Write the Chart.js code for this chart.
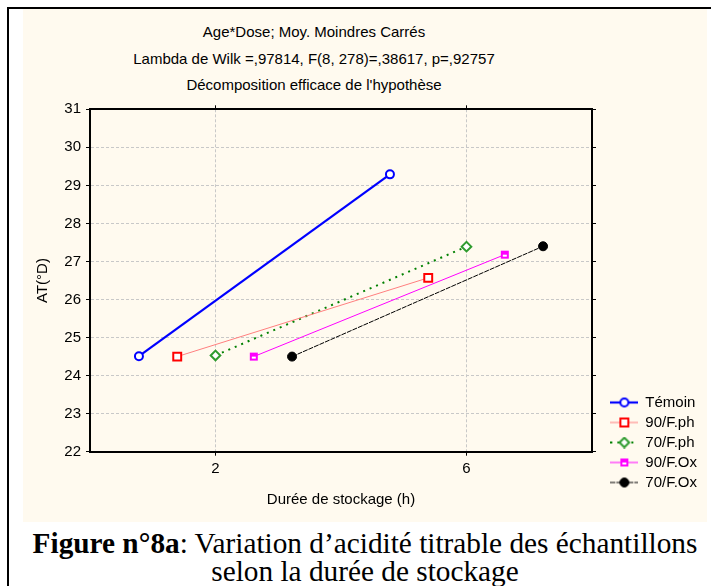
<!DOCTYPE html>
<html lang="fr">
<head>
<meta charset="UTF-8">
<title>Acidité titrable</title>
<script src="https://cdn.jsdelivr.net/npm/chart.js@4.4.1/dist/chart.umd.min.js"></script>
<style>
  html, body { margin: 0; padding: 0; background: #fff; width: 711px; height: 586px; overflow: hidden; }
  #frame { position: absolute; left: 7px; top: 7px; width: 720px; height: 600px; border-left: 2px solid #000; border-top: 2px solid #000; }
  #panel { position: absolute; left: 23px; top: 9px; width: 684px; height: 513px; background: #fffaef; }
  #titles { position: absolute; left: 2px; top: 10px; width: 578px; text-align: center;
            font: 15px "Liberation Sans", Arial, sans-serif; line-height: 26.5px; color: #000; }
  #chart { position: absolute; left: 0; top: 0; }
  #caption { position: absolute; left: 23px; top: 529px; width: 684px; text-align: center;
             font: 29.3px "Liberation Serif", "Times New Roman", serif; line-height: 28px; color: #000; }
</style>
</head>
<body>
<div id="frame"></div>
<div id="panel">
  <div id="titles">
    <div>Age*Dose; Moy. Moindres Carrés</div>
    <div>Lambda de Wilk =,97814, F(8, 278)=,38617, p=,92757</div>
    <div>Décomposition efficace de l'hypothèse</div>
  </div>
  <canvas id="chart" width="684" height="513"></canvas>
</div>
<div id="caption"><b>Figure n°8a</b>: Variation d’acidité titrable des échantillons<br>selon la durée de stockage</div>
<script>
// durée de stockage (h) et groupes
const durations = [2, 6];
const seriesNames = ['Témoin', '90/F.ph', '70/F.ph', '90/F.Ox', '70/F.Ox'];

// AT (°D), moyennes
const temoin = [24.51, 29.29];
const ph90   = [24.50, 26.57];
const ph70   = [24.53, 27.39];
const ox90   = [24.50, 27.18];
const ox70   = [24.50, 27.40];

const xTicks = [2, 6];
const yTicks = [22, 23, 24, 25, 26, 27, 28, 29, 30, 31];

const values = [temoin, ph90, ph70, ox90, ox70];

// horizontal dodge of each group around its duration
const dodge = [-1.22, -0.61, 0, 0.61, 1.22];

function halfSquare(col) {
  const c = document.createElement('canvas');
  c.width = 10; c.height = 10;
  const g = c.getContext('2d');
  g.fillStyle = '#fff';
  g.fillRect(1, 1, 8, 8);
  g.fillStyle = col;
  g.fillRect(1, 1, 8, 4);
  g.strokeStyle = col;
  g.lineWidth = 2;
  g.strokeRect(2, 2, 6, 6);
  return c;
}

const styles = [
  { color: '#0000ff', width: 2.2, dash: [],     marker: 'circle',  r: 4,   mk: '#0000ff', fill: '#ffffff', bw: 2 },
  { color: '#ff7f7f', width: 1,   dash: [],     marker: 'rect',    r: 5.6, mk: '#ff0000', fill: '#ffffff', bw: 2 },
  { color: '#008000', width: 2,   dash: [2, 5], marker: 'rectRot', r: 4.8, mk: '#2e9b2e', fill: '#ffffff', bw: 2 },
  { color: '#ff00ff', width: 1,   dash: [],     marker: halfSquare('#ff00ff'), r: 5, mk: '#ff00ff', fill: '#ffffff', bw: 0 },
  { color: '#000000', width: 1,   dash: [5, 1], marker: 'circle',  r: 4.5, mk: '#000000', fill: '#000000', bw: 1 }
];

function legendIcon(s) {
  const c = document.createElement('canvas');
  c.width = 28; c.height = 12;
  const g = c.getContext('2d');
  g.strokeStyle = s.color;
  g.lineWidth = s.width;
  g.setLineDash(s.dash);
  g.beginPath(); g.moveTo(0, 6); g.lineTo(28, 6); g.stroke();
  g.setLineDash([]);
  if (typeof s.marker !== 'string') {
    g.drawImage(s.marker, 9, 1);
  } else {
    g.fillStyle = s.fill;
    g.strokeStyle = s.mk;
    g.lineWidth = s.bw;
    Chart.helpers.drawPoint(g, { pointStyle: s.marker, radius: s.r, borderWidth: s.bw, rotation: 0 }, 14, 6);
  }
  return c;
}
const icons = styles.map(legendIcon);

const datasets = seriesNames.map((name, i) => ({
  label: name,
  data: durations.map((d, j) => ({ x: d + dodge[i], y: values[i][j] })),
  borderColor: styles[i].color,
  borderWidth: styles[i].width,
  borderDash: styles[i].dash,
  pointStyle: styles[i].marker,
  pointRadius: styles[i].r,
  pointBorderWidth: styles[i].bw,
  pointBorderColor: styles[i].mk,
  pointBackgroundColor: styles[i].fill,
  tension: 0,
  fill: false
}));

Chart.defaults.font.family = '"Liberation Sans", Arial, sans-serif';
Chart.defaults.font.size = 15;
Chart.defaults.color = '#000';

const gridCol = '#c8c8c8';

new Chart(document.getElementById('chart'), {
  type: 'line',
  data: { datasets },
  options: {
    responsive: false,
    animation: false,
    devicePixelRatio: 1,
    layout: { padding: { left: 0, right: 0, top: 95.3, bottom: 27 } },
    plugins: {
      title: { display: false },
      tooltip: { enabled: false },
      legend: {
        position: 'right',
        align: 'end',
        labels: {
          usePointStyle: true,
          pointStyleWidth: 27,
          padding: 5,
          color: '#000',
          font: { size: 15 },
          generateLabels: chart => chart.data.datasets.map((ds, i) => ({
            text: ds.label,
            datasetIndex: i,
            pointStyle: icons[i],
            fillStyle: 'transparent',
            strokeStyle: 'transparent',
            lineWidth: 0,
            hidden: false,
            fontColor: '#000'
          }))
        }
      }
    },
    scales: {
      x: {
        type: 'linear', position: 'bottom', min: 0, max: 8,
        afterBuildTicks: s => { s.ticks = xTicks.map(v => ({ value: v })); },
        afterFit: s => { s.height = 43.3; },
        ticks: { padding: 4, callback: v => String(v) },
        grid: { color: gridCol, lineWidth: 1, tickColor: '#000', tickLength: 4 },
        border: { color: '#000', width: 2, dash: [3, 2] },
        title: { display: true, text: 'Durée de stockage (h)', padding: { top: 0, bottom: -14 } }
      },
      x2: {
        type: 'linear', position: 'top', min: 0, max: 8,
        afterBuildTicks: s => { s.ticks = xTicks.map(v => ({ value: v })); },
        afterFit: s => { s.height = 5; },
        ticks: { display: false },
        grid: { drawOnChartArea: false, tickColor: '#000', tickLength: 4 },
        border: { color: '#000', width: 2 }
      },
      y: {
        type: 'linear', position: 'left', min: 22, max: 31,
        afterBuildTicks: s => { s.ticks = yTicks.map(v => ({ value: v })); },
        afterFit: s => { s.width = 67; },
        ticks: { padding: 5 },
        grid: { color: gridCol, lineWidth: 1, tickColor: '#000', tickLength: 4 },
        border: { color: '#000', width: 2, dash: [3, 2] },
        title: { display: true, text: 'AT(°D)', padding: { top: 11, bottom: 0 } }
      },
      y2: {
        type: 'linear', position: 'right', min: 22, max: 31,
        afterBuildTicks: s => { s.ticks = yTicks.map(v => ({ value: v })); },
        afterFit: s => { s.width = s.chart.width - s.chart.legend.width - 569; },
        ticks: { display: false },
        grid: { drawOnChartArea: false, tickColor: '#000', tickLength: 4 },
        border: { color: '#000', width: 2 }
      }
    }
  }
});
</script>
</body>
</html>
